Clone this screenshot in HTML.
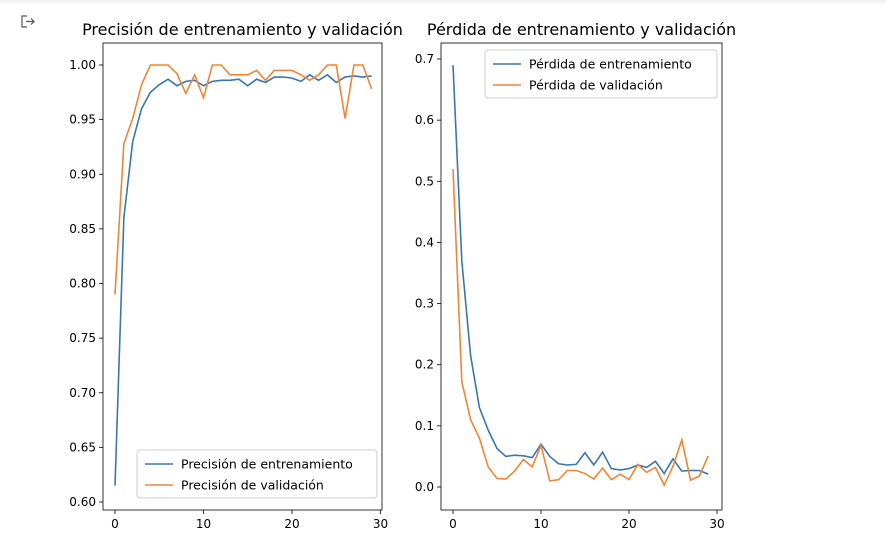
<!DOCTYPE html>
<html><head><meta charset="utf-8"><style>
body{margin:0;background:#fff;width:886px;height:558px;overflow:hidden;font-family:"Liberation Sans","DejaVu Sans",sans-serif}
</style></head><body>
<svg id="s" width="886" height="558" style="position:absolute;left:0;top:0" font-family="'DejaVu Sans','Liberation Sans',sans-serif">
<rect x="0" y="0" width="886" height="3" fill="#f3f3f3"/>
<g stroke="#555" fill="none" stroke-width="1.2"><path d="M27 16 h-5 v11 h5"/><path d="M26 21.5 h8 M31 18.5 l3 3 l-3 3"/></g>
</svg>
<script>
const epochs=[...Array(30).keys()];
const trainAcc=[0.615,0.86,0.93,0.96,0.975,0.982,0.987,0.981,0.985,0.986,0.981,0.985,0.986,0.986,0.987,0.981,0.987,0.984,0.989,0.989,0.988,0.985,0.991,0.986,0.991,0.984,0.989,0.990,0.989,0.990];
const valAcc=[0.79,0.928,0.951,0.982,1.0,1.0,1.0,0.992,0.974,0.991,0.970,1.0,1.0,0.991,0.991,0.991,0.995,0.986,0.995,0.995,0.995,0.991,0.986,0.991,1.0,1.0,0.951,1.0,1.0,0.978];
const trainLoss=[0.69,0.37,0.215,0.13,0.093,0.063,0.05,0.052,0.051,0.048,0.07,0.05,0.038,0.036,0.037,0.056,0.036,0.057,0.03,0.028,0.03,0.036,0.032,0.042,0.022,0.046,0.026,0.027,0.027,0.021];
const valLoss=[0.52,0.172,0.11,0.08,0.033,0.014,0.013,0.026,0.045,0.033,0.068,0.01,0.012,0.027,0.027,0.022,0.013,0.031,0.012,0.021,0.012,0.037,0.024,0.032,0.003,0.034,0.077,0.011,0.018,0.051];
const xTicks=[0,10,20,30];
const accTicks=[0.60,0.65,0.70,0.75,0.80,0.85,0.90,0.95,1.00];
const lossTicks=[0.0,0.1,0.2,0.3,0.4,0.5,0.6,0.7];
const NS="http://www.w3.org/2000/svg";
const svg=document.getElementById('s');
function mk(t,a,p){const e=document.createElementNS(NS,t);for(const k in a)e.setAttribute(k,a[k]);(p||svg).appendChild(e);return e;}
function panel(o){
  const g=mk('g',{});
  
  
  const X=v=>o.x0+(v-o.xmin)/(o.xmax-o.xmin)*(o.x1-o.x0);
  const Y=v=>o.y0+(v-o.ymin)/(o.ymax-o.ymin)*(o.y1-o.y0);
  xTicks.forEach(t=>{const px=X(t);
    const l=mk('line',{x1:px,x2:px,y1:o.by,y2:o.by+4,stroke:'#000','stroke-width':0.8},g);
    
    const tx=mk('text',{x:px,y:o.by+18,'text-anchor':'middle','font-size':12},g);tx.textContent=t;
    });
  o.yt.forEach(t=>{const py=Y(t);
    const l=mk('line',{x1:o.bx-4,x2:o.bx,y1:py,y2:py,stroke:'#000','stroke-width':0.8},g);
    
    const tx=mk('text',{x:o.bx-7,y:py+4,'text-anchor':'end','font-size':12},g);tx.textContent=t.toFixed(o.dec);
    });
  o.series.forEach(s=>{
    const p=mk('polyline',{points:s.d.map((v,i)=>X(epochs[i])+','+Y(v)).join(' '),fill:'none',stroke:s.c,'stroke-width':1.6},g);
    });
  const fr=mk('rect',{x:o.bx,y:43,width:o.bw,height:467,fill:'none',stroke:'#000','stroke-width':0.8},g);
  
  const ti=mk('text',{x:o.bx+o.bw/2,y:35,'text-anchor':'middle','font-size':16},g);ti.textContent=o.title;
  
  const lg=mk('g',{},g);
  mk('rect',{x:o.lx,y:o.ly,width:o.lw,height:48,rx:3,fill:'#fff','fill-opacity':0.8,stroke:'#ccc'},lg);
  o.series.forEach((s,i)=>{const yy=o.ly+14+i*21;
    const e=mk('g',{},lg);
    mk('line',{x1:o.lx+8,x2:o.lx+36,y1:yy,y2:yy,stroke:s.c,'stroke-width':1.6},e);
    const t=mk('text',{x:o.lx+44,y:yy+4.5,'font-size':12.5},e);t.textContent=s.l;});
}
panel({name:'accuracy-panel',title:'Precisión de entrenamiento y validación',bx:103,bw:279,by:510,
  x0:115,x1:380.5,xmin:0,xmax:30,y0:502,y1:65,ymin:0.60,ymax:1.00,yt:accTicks,dec:2,
  lx:137,ly:450,lw:240,
  series:[{d:trainAcc,c:'#3b75af',n:'train-accuracy-line',l:'Precisión de entrenamiento'},{d:valAcc,c:'#ef8636',n:'val-accuracy-line',l:'Precisión de validación'}]});
panel({name:'loss-panel',title:'Pérdida de entrenamiento y validación',bx:441,bw:281,by:510,
  x0:453,x1:717,xmin:0,xmax:30,y0:487,y1:59,ymin:0,ymax:0.7,yt:lossTicks,dec:1,
  lx:485,ly:50,lw:232,
  series:[{d:trainLoss,c:'#3b75af',n:'train-loss-line',l:'Pérdida de entrenamiento'},{d:valLoss,c:'#ef8636',n:'val-loss-line',l:'Pérdida de validación'}]});
</script>
</body></html>
